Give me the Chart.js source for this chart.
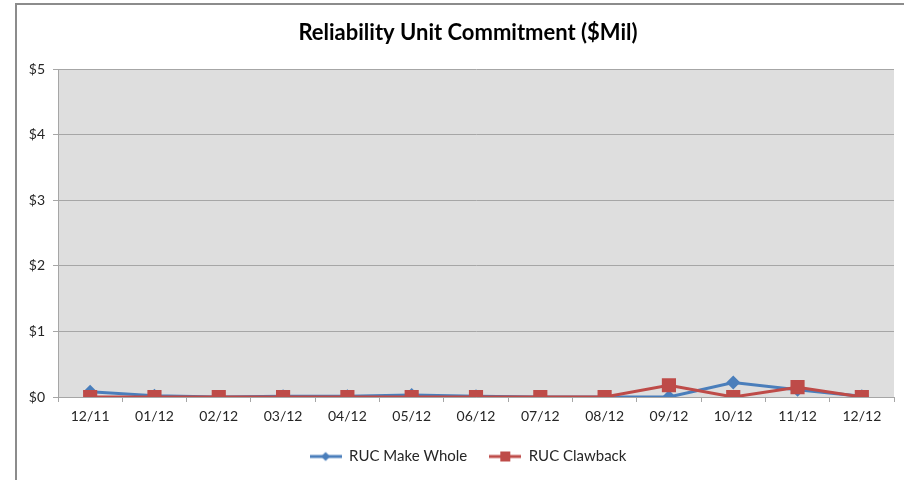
<!DOCTYPE html>
<html>
<head>
<meta charset="utf-8">
<script src="https://cdn.jsdelivr.net/npm/chart.js@4/dist/chart.umd.min.js"></script>
<style>
  html, body { margin: 0; padding: 0; background: #fff; }
  #wrap { position: relative; width: 904px; height: 482px; }
</style>
</head>
<body>
<div id="wrap"><canvas id="rucChart" width="904" height="482"></canvas></div>
<script>
const months = ["12/11", "01/12", "02/12", "03/12", "04/12", "05/12", "06/12", "07/12", "08/12", "09/12", "10/12", "11/12", "12/12"];
const makeWhole = [0.08, 0.02, 0.0, 0.01, 0.01, 0.03, 0.01, 0.0, 0.0, 0.0, 0.22, 0.11, 0.01];
const clawback = [0.0, 0.0, 0.0, 0.0, 0.0, 0.0, 0.0, 0.0, 0.0, 0.18, 0.0, 0.15, 0.0];
const yTicks = [0, 1, 2, 3, 4, 5];

const blue = "#4a7ebb";
const red = "#be4b48";
const font = "Lato, 'Open Sans', sans-serif";

// small legend swatch: line with the marker on it
function swatch(color, shape) {
  const c = document.createElement("canvas");
  c.width = 32;
  c.height = 14;
  const g = c.getContext("2d");
  g.strokeStyle = color;
  g.lineWidth = 3;
  g.beginPath();
  g.moveTo(0, 7);
  g.lineTo(32, 7);
  g.stroke();
  g.fillStyle = color;
  if (shape === "diamond") {
    g.beginPath();
    g.moveTo(16, 2.5);
    g.lineTo(20.5, 7);
    g.lineTo(16, 11.5);
    g.lineTo(11.5, 7);
    g.closePath();
    g.fill();
  } else {
    g.fillRect(11, 2, 10, 10);
  }
  return c;
}

const frame = {
  id: "frame",
  afterLayout(chart) {
    // the original centres title and legend a bit right of the canvas middle
    [chart.titleBlock, chart.legend].forEach((box) => {
      box.left += 21;
      box.right += 21;
    });
  },
  beforeDraw(chart) {
    const ctx = chart.ctx;
    const a = chart.chartArea;
    ctx.save();
    ctx.fillStyle = "#fff";
    ctx.fillRect(0, 0, chart.width, chart.height);
    ctx.strokeStyle = "#8c8c8c";
    ctx.lineWidth = 2;
    ctx.beginPath();
    ctx.moveTo(16, 480);
    ctx.lineTo(16, 4);
    ctx.lineTo(904, 4);
    ctx.stroke();
    ctx.fillStyle = "#dedede";
    ctx.fillRect(a.left, a.top, a.right - a.left, a.bottom - a.top);
    ctx.restore();
  },
};

new Chart(document.getElementById("rucChart"), {
  type: "line",
  data: {
    labels: months,
    datasets: [
      {
        label: "RUC Make Whole",
        data: makeWhole,
        borderColor: blue,
        backgroundColor: blue,
        borderWidth: 3,
        pointStyle: "rectRot",
        pointRadius: 7,
        pointBorderWidth: 0,
        tension: 0,
        order: 1,
      },
      {
        label: "RUC Clawback",
        data: clawback,
        borderColor: red,
        backgroundColor: red,
        borderWidth: 3,
        pointStyle: "rect",
        pointRadius: 10,
        pointBorderWidth: 0,
        tension: 0,
        order: 0,
      },
    ],
  },
  options: {
    responsive: false,
    animation: false,
    layout: { padding: { left: 0, right: 10, top: 0, bottom: 8 } },
    scales: {
      x: {
        offset: true,
        grid: {
          offset: true,
          drawOnChartArea: false,
          color: "#a6a6a6",
          tickLength: 5,
        },
        border: { color: "#a6a6a6" },
        ticks: { color: "#262626", font: { family: font, size: 14 }, padding: 6 },
        afterFit(scale) { scale.height = 30; },
      },
      y: {
        min: 0,
        max: 5,
        afterBuildTicks(scale) { scale.ticks = yTicks.map((v) => ({ value: v })); },
        grid: { color: "#a6a6a6", tickLength: 5 },
        border: { color: "#a6a6a6" },
        ticks: {
          color: "#262626",
          font: { family: font, size: 14 },
          padding: 8,
          callback: (v) => "$" + v,
        },
        afterFit(scale) { scale.width = 58; },
      },
    },
    plugins: {
      title: {
        display: true,
        text: "Reliability Unit Commitment ($Mil)",
        color: "#000",
        font: { family: font, size: 22, weight: "bold" },
        padding: { top: 20, bottom: 23 },
      },
      legend: {
        position: "bottom",
        reverse: true,
        labels: {
          color: "#262626",
          font: { family: font, size: 15 },
          usePointStyle: true,
          pointStyleWidth: 32,
          boxWidth: 32,
          boxHeight: 14,
          padding: 22,
          generateLabels(chart) {
            return chart.data.datasets.map((ds, i) => ({
              text: ds.label,
              pointStyle: swatch(ds.borderColor, i === 0 ? "diamond" : "square"),
              fillStyle: ds.borderColor,
              strokeStyle: ds.borderColor,
              lineWidth: 0,
              hidden: false,
              datasetIndex: i,
              fontColor: "#262626",
            })).reverse();
          },
        },
      },
      tooltip: { enabled: false },
    },
  },
  plugins: [frame],
});
</script>
</body>
</html>
